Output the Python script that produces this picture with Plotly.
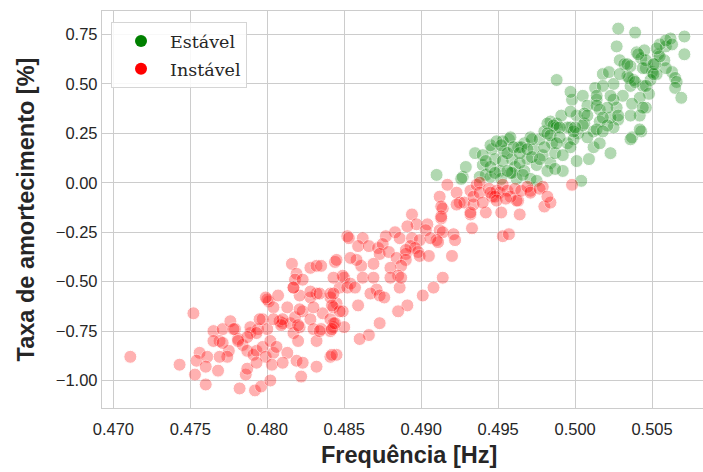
import plotly.graph_objects as go

# Instável (unstable) points: frequency [Hz], damping [%]
red_x = [0.4711, 0.4752, 0.4743, 0.4756, 0.4754, 0.4761, 0.4753, 0.4760, 0.4768, 0.4760,
         0.4765, 0.4771, 0.4769, 0.4765, 0.4775, 0.4774, 0.4769, 0.4776, 0.4779, 0.4781,
         0.4784, 0.4789, 0.4789, 0.4794, 0.4797, 0.4800, 0.4801, 0.4800, 0.4804, 0.4807,
         0.4787, 0.4791, 0.4793, 0.4797, 0.4799, 0.4802, 0.4804, 0.4803, 0.4806, 0.4808,
         0.4810, 0.4813, 0.4815, 0.4818, 0.4817, 0.4820, 0.4821, 0.4823, 0.4828, 0.4830,
         0.4832, 0.4835, 0.4836, 0.4841, 0.4843, 0.4845, 0.4841, 0.4832, 0.4828, 0.4821,
         0.4817, 0.4819, 0.4823, 0.4822, 0.4832, 0.4841, 0.4813, 0.4810, 0.4786, 0.4787,
         0.4782, 0.4792, 0.4796, 0.4802, 0.4793, 0.4845, 0.4842, 0.4852, 0.4816, 0.4819,
         0.4828, 0.4832, 0.4835, 0.4844, 0.4818, 0.4817, 0.4799, 0.4823, 0.4828, 0.4834,
         0.4841, 0.4847, 0.4850, 0.4852, 0.4843, 0.4849, 0.4850, 0.4843, 0.4841, 0.4834,
         0.4830, 0.4821, 0.4820, 0.4810, 0.4809, 0.4804, 0.4795, 0.4793, 0.4787, 0.4781,
         0.4778, 0.4771,
         0.4917, 0.4912, 0.4923, 0.4925, 0.4914, 0.4913, 0.4932, 0.4933, 0.4928, 0.4934,
         0.4942, 0.4952, 0.4964, 0.4963, 0.4971, 0.4979, 0.4980, 0.4984, 0.4998, 0.4953,
         0.4957, 0.4894, 0.4897, 0.4891, 0.4904, 0.4903, 0.4912, 0.4914, 0.4910, 0.4921,
         0.4922, 0.4883, 0.4877, 0.4886, 0.4894, 0.4899, 0.4906, 0.4893, 0.4896, 0.4898,
         0.4890, 0.4899, 0.4905, 0.4920, 0.4911, 0.4914, 0.4908, 0.4901, 0.4891, 0.4885,
         0.4873, 0.4866, 0.4860, 0.4853, 0.4862, 0.4859, 0.4866, 0.4872, 0.4875, 0.4873,
         0.4879, 0.4884, 0.4890, 0.4890, 0.4887, 0.4880, 0.4869, 0.4861, 0.4858, 0.4854,
         0.4845, 0.4849, 0.4854, 0.4857, 0.4862, 0.4869, 0.4871, 0.4867, 0.4859, 0.4873,
         0.4876, 0.4886, 0.4885, 0.4880, 0.4887, 0.4843, 0.4843, 0.4847, 0.4842, 0.4844,
         0.4842,
         0.4913, 0.4923, 0.4932, 0.4936, 0.4938, 0.4934, 0.4938, 0.4940, 0.4944, 0.4946,
         0.4949, 0.4951, 0.4953, 0.4956, 0.4958, 0.4961, 0.4962, 0.4965, 0.4969, 0.4971,
         0.4977, 0.4982, 0.4932, 0.4913, 0.4948, 0.4945, 0.4949, 0.4955]
red_y = [-0.88, -0.66, -0.92, -0.86, -0.90, -0.88, -0.97, -0.93, -0.95, -1.02,
         -0.75, -0.74, -0.80, -0.80, -0.85, -0.88, -0.88, -0.70, -0.74, -0.79,
         -0.82, -0.76, -0.73, -0.74, -0.69, -0.74, -0.60, -0.59, -0.63, -0.57,
         -0.85, -0.87, -0.85, -0.83, -0.88, -0.80, -0.86, -0.92, -0.83, -0.70,
         -0.71, -0.63, -0.71, -0.68, -0.76, -0.80, -0.73, -0.65, -0.69, -0.74,
         -0.80, -0.74, -0.66, -0.69, -0.73, -0.61, -0.58, -0.56, -0.58, -0.57,
         -0.53, -0.90, -0.91, -0.98, -0.93, -0.88, -0.86, -0.91, -0.97, -0.94,
         -1.04, -1.05, -1.03, -1.00, -0.91, -0.87, -0.87, -0.27, -0.41, -0.46,
         -0.43, -0.42, -0.42, -0.40, -0.49, -0.53, -0.58, -0.49, -0.55, -0.56,
         -0.56, -0.53, -0.48, -0.53, -0.63, -0.65, -0.73, -0.71, -0.75, -0.75,
         -0.63, -0.64, -0.72, -0.69, -0.72, -0.69, -0.69, -0.76, -0.78, -0.80,
         -0.74, -0.81,
         -0.01, -0.07, -0.05, -0.10, -0.13, -0.18, -0.16, -0.23, -0.10, -0.11,
         -0.15, -0.15, -0.16, -0.09, -0.04, -0.02, -0.12, -0.10, -0.01, -0.27,
         -0.26, -0.16, -0.21, -0.22, -0.21, -0.24, -0.24, -0.25, -0.29, -0.26,
         -0.29, -0.25, -0.27, -0.28, -0.28, -0.29, -0.28, -0.32, -0.33, -0.35,
         -0.36, -0.37, -0.37, -0.37, -0.30, -0.48, -0.53, -0.57, -0.62, -0.65,
         -0.71, -0.77, -0.79, -0.28, -0.28, -0.32, -0.32, -0.33, -0.31, -0.36,
         -0.35, -0.38, -0.34, -0.39, -0.42, -0.43, -0.41, -0.42, -0.39, -0.38,
         -0.39, -0.47, -0.51, -0.53, -0.48, -0.48, -0.54, -0.56, -0.62, -0.57,
         -0.58, -0.53, -0.47, -0.48, -0.48, -0.48, -0.56, -0.65, -0.62, -0.71,
         -0.74,
         -0.12, -0.11, -0.04, -0.01, 0.00, -0.07, -0.05, -0.10, -0.03, -0.07,
         -0.04, -0.05, -0.01, -0.04, -0.07, -0.03, -0.09, -0.04, -0.02, -0.05,
         -0.03, -0.07, -0.15, -0.17, -0.07, -0.05, -0.09, -0.08]

# Estável (stable) points
green_x = [0.4910, 0.4927, 0.4929, 0.4935, 0.4940, 0.4942, 0.4946, 0.4948, 0.4951, 0.4957,
           0.4954, 0.4959, 0.4961, 0.4963, 0.4967, 0.4969, 0.4967, 0.4971, 0.4973, 0.4975,
           0.4977, 0.4979, 0.4980, 0.4984, 0.4985, 0.4984, 0.4988, 0.4987, 0.4991, 0.4992,
           0.4995, 0.4997, 0.4998, 0.4997, 0.5001, 0.5002, 0.5005, 0.5006, 0.5008, 0.5004,
           0.5001, 0.5009, 0.4938, 0.4945, 0.4952, 0.4962, 0.4971, 0.4975, 0.4958, 0.4959,
           0.4964, 0.4945, 0.4953, 0.4926, 0.4953, 0.4958, 0.4965, 0.4972, 0.4982, 0.4988,
           0.4997, 0.5006, 0.5013, 0.5014, 0.5016, 0.5018, 0.5022, 0.5025, 0.5027, 0.5028,
           0.5029, 0.5032, 0.5036, 0.5039, 0.5040, 0.5043, 0.5045, 0.5046, 0.5050, 0.5044,
           0.5048, 0.5042, 0.5046, 0.5042, 0.5036, 0.5037, 0.5043, 0.5028, 0.5025, 0.5023,
           0.5027, 0.5031, 0.5036, 0.5038, 0.5034, 0.5035, 0.5029, 0.5025, 0.5018, 0.5023,
           0.5016, 0.5021, 0.5012, 0.5012, 0.5016, 0.5023, 0.5008, 0.4999, 0.4997, 0.4988,
           0.4995, 0.5054, 0.5059, 0.5062, 0.5055, 0.5058, 0.5063, 0.5065, 0.5066, 0.5065,
           0.5069, 0.5071, 0.5071, 0.5059, 0.5053, 0.5049, 0.5052, 0.5046, 0.5034, 0.5039,
           0.5041, 0.5044, 0.5046, 0.5037, 0.5044, 0.5042, 0.5036, 0.5028, 0.5021, 0.5014,
           0.5014, 0.5008, 0.5005, 0.5014, 0.5018, 0.5018, 0.4986, 0.4990, 0.4982, 0.4999,
           0.5059, 0.5063, 0.5055, 0.5053, 0.5051, 0.5051,
           0.4945, 0.4949, 0.4952, 0.4956, 0.4960, 0.4964, 0.4969, 0.4972, 0.4977, 0.4980,
           0.4984, 0.4990, 0.4988, 0.4992, 0.5000, 0.4940, 0.4942, 0.4948, 0.4956, 0.4966,
           0.4982, 0.4987]
green_y = [0.04, 0.03, 0.08, 0.15, 0.09, 0.04, 0.17, 0.12, 0.06, 0.22,
           0.16, 0.12, 0.08, 0.18, 0.20, 0.12, 0.06, 0.23, 0.17, 0.09,
           0.22, 0.14, 0.26, 0.10, 0.20, 0.31, 0.30, 0.15, 0.34, 0.06,
           0.20, 0.28, 0.42, 0.46, 0.34, 0.25, 0.44, 0.30, 0.39, 0.01,
           0.11, 0.12, 0.03, 0.03, 0.02, 0.02, 0.02, 0.01, 0.05, 0.05,
           0.10, 0.08, 0.11, 0.02, 0.21, 0.23, 0.18, 0.22, 0.30, 0.52,
           0.36, 0.35, 0.48, 0.42, 0.37, 0.55, 0.56, 0.50, 0.69, 0.78,
           0.62, 0.60, 0.59, 0.76, 0.66, 0.63, 0.67, 0.58, 0.56, 0.49,
           0.45, 0.43, 0.38, 0.34, 0.34, 0.23, 0.26, 0.32, 0.28, 0.33,
           0.38, 0.44, 0.49, 0.52, 0.54, 0.53, 0.55, 0.42, 0.49, 0.44,
           0.31, 0.29, 0.26, 0.18, 0.20, 0.15, 0.23, 0.22, 0.18, 0.28,
           0.28, 0.65, 0.69, 0.73, 0.70, 0.62, 0.56, 0.53, 0.51, 0.48,
           0.43, 0.74, 0.65, 0.58, 0.55, 0.52, 0.60, 0.62, 0.60, 0.51,
           0.65, 0.58, 0.49, 0.40, 0.38, 0.27, 0.22, 0.34, 0.38, 0.44,
           0.39, 0.34, 0.29, 0.27, 0.33, 0.26, 0.29, 0.28, 0.25, 0.26,
           0.72, 0.70, 0.64, 0.68, 0.60, 0.55,
           0.19, 0.21, 0.19, 0.15, 0.18, 0.15, 0.17, 0.13, 0.12, 0.18,
           0.24, 0.23, 0.20, 0.14, 0.28, 0.14, 0.11, 0.05, 0.06, 0.04,
           0.06, 0.07]

series_names = ["Estável", "Instável"]
series_colors = ["green", "red"]
x_ticks = [0.470, 0.475, 0.480, 0.485, 0.490, 0.495, 0.500, 0.505]
y_ticks = [0.75, 0.50, 0.25, 0.00, -0.25, -0.50, -0.75, -1.00]

SANS = "Liberation Sans, Arial, sans-serif"
TXT = "#262626"

fig = go.Figure()

# legend-only entries (full opacity markers)
for name, col in zip(series_names, series_colors):
    fig.add_trace(go.Scatter(x=[None], y=[None], mode="markers", name=name,
                             legendgroup=name,
                             marker=dict(color=col, size=12), showlegend=True))

fig.add_trace(go.Scatter(x=green_x, y=green_y, mode="markers", showlegend=False,
                         name=series_names[0],
                         marker=dict(color=series_colors[0], size=13, opacity=0.3,
                                     line=dict(color="white", width=1))))
fig.add_trace(go.Scatter(x=red_x, y=red_y, mode="markers", showlegend=False,
                         name=series_names[1],
                         marker=dict(color=series_colors[1], size=13, opacity=0.3,
                                     line=dict(color="white", width=1))))

axis_common = dict(showgrid=True, gridcolor="#cccccc", gridwidth=1,
                   showline=True, linecolor="#cccccc", linewidth=1.3,
                   zeroline=False, ticks="", automargin=False,
                   tickfont=dict(family=SANS, size=16.5, color=TXT))

fig.update_layout(
    width=703, height=472,
    margin=dict(l=102, r=0, t=11, b=64, autoexpand=False),
    paper_bgcolor="white", plot_bgcolor="white",
    xaxis=dict(range=[0.46926, 0.50831], tickvals=x_ticks, tickformat=".3f",
               mirror=True, ticklabelstandoff=6, **axis_common),
    yaxis=dict(range=[-1.139, 0.869], tickvals=y_ticks, tickformat=".2f",
               mirror=False,
               title=dict(text="<b>Taxa de amortecimento [%]</b>", standoff=14,
                          font=dict(family=SANS, size=23.5, color=TXT)),
               **axis_common),
    legend=dict(x=0.015, y=0.972, xanchor="left", yanchor="top",
                bgcolor="rgba(255,255,255,0.85)", bordercolor="#d5d5d5", borderwidth=1,
                font=dict(family="DejaVu Serif, serif", size=17.5, color=TXT),
                itemsizing="constant", itemwidth=48, tracegroupgap=2),
    showlegend=True,
    annotations=[dict(text="<b>Frequência [Hz]</b>", xref="paper", yref="paper",
                      x=0.5103, y=-0.118, xanchor="center", yanchor="middle",
                      showarrow=False,
                      font=dict(family=SANS, size=23.5, color=TXT))],
)

fig.write_html("out.html", config={"displayModeBar": False},
               post_script="document.body.style.margin='0';")
